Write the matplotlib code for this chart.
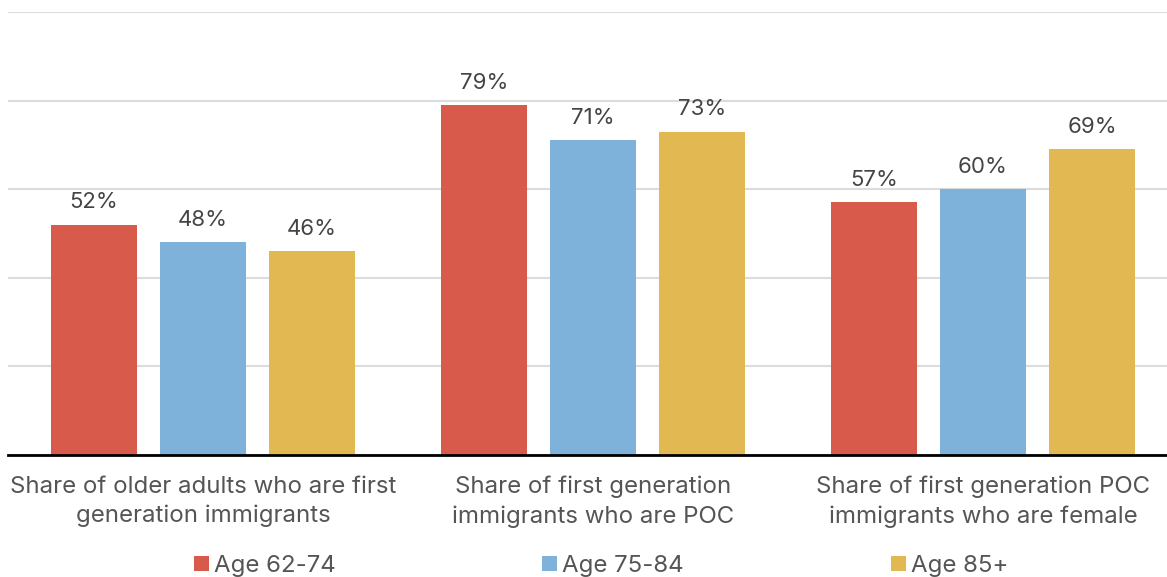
import numpy as np
import matplotlib.pyplot as plt

plt.rcParams['font.family'] = ['Inter', 'DejaVu Sans']

categories = ['Share of older adults who are first\ngeneration immigrants',
              'Share of first generation\nimmigrants who are POC',
              'Share of first generation POC\nimmigrants who are female']
series_names = ['Age 62-74', 'Age 75-84', 'Age 85+']
age_62_74 = [52, 79, 57]
age_75_84 = [48, 71, 60]
age_85_plus = [46, 73, 69]

colors = ['#D75A4A', '#7EB2DA', '#E2B852']
text_col = '#555555'

W, H = 1167, 577
fig = plt.figure(figsize=(W / 100, H / 100), dpi=100)
ax = fig.add_axes([8 / W, 1 - 455 / H, 1170 / W, (455 - 12) / H])

x = np.arange(len(categories))
bw = 0.22
step = 0.28
handles = []
for i, (vals, name) in enumerate(zip([age_62_74, age_75_84, age_85_plus], series_names)):
    bars = ax.bar(x + (i - 1) * step, vals, bw, color=colors[i], label=name, zorder=3)
    handles.append(bars)
    for b, v in zip(bars, vals):
        ax.annotate(f'{v}%', (b.get_x() + b.get_width() / 2, v),
                    xytext=(0, 9), textcoords='offset points',
                    ha='center', va='bottom', fontsize=16, color='#444444')

ax.set_xlim(-0.5, 2.5)
ax.set_ylim(0, 100)
ax.set_yticks(range(0, 101, 20))
ax.yaxis.grid(True, color='#dcdcdc', linewidth=1.5, zorder=0)
ax.set_yticklabels([])
ax.tick_params(axis='y', length=0)
ax.set_xticks(x)
ax.set_xticklabels(categories, fontsize=17.3, color=text_col, linespacing=1.4)
ax.tick_params(axis='x', length=0, pad=15)
for s in ['top', 'right', 'left']:
    ax.spines[s].set_visible(False)
ax.spines['bottom'].set_color('black')
ax.spines['bottom'].set_linewidth(2)
ax.spines['bottom'].set_zorder(4)

leg = fig.legend(handles=handles, loc='center', bbox_to_anchor=(601 / W, 1 - 566 / H),
                 ncol=3, frameon=False, fontsize=17.3, handlelength=0.63, handleheight=0.63,
                 handletextpad=0.21, columnspacing=8.6, borderaxespad=0)
for t in leg.get_texts():
    t.set_color(text_col)

fig.savefig('out.png', dpi=100)
